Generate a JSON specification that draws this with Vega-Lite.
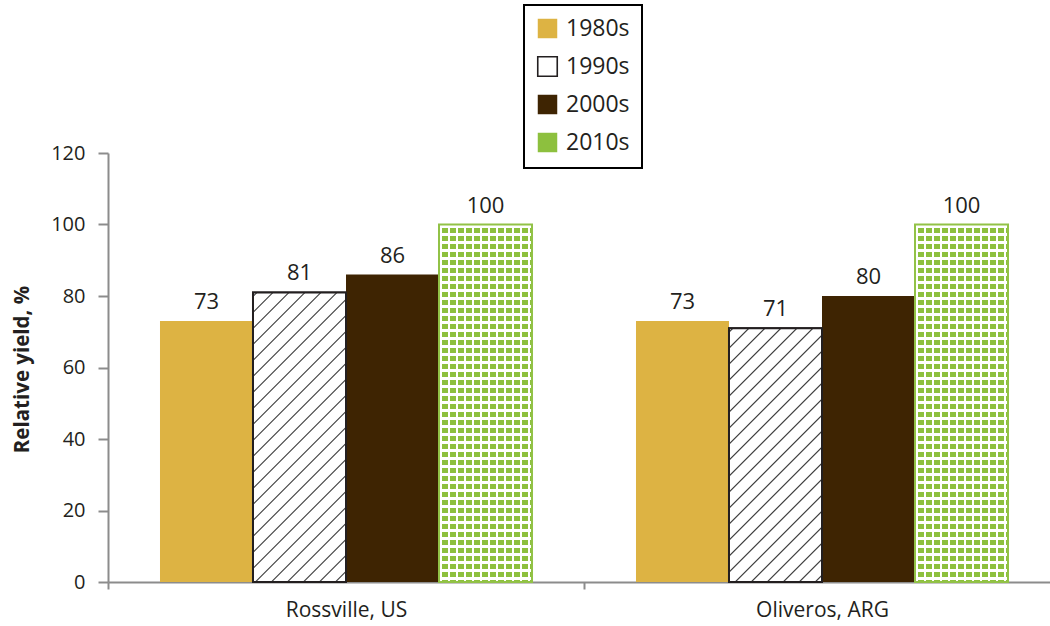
{
  "$schema": "https://vega.github.io/schema/vega-lite/v6.json",
  "width": 952,
  "height": 429,
  "autosize": "none",
  "padding": {"left": 108, "top": 153, "right": -10, "bottom": 44},
  "background": "white",
  "config": {
    "view": {"stroke": null},
    "font": "Open Sans",
    "legend": {
      "symbolSize": 380, "symbolType": "square", "symbolStrokeWidth": 1.6,
      "labelFont": "Open Sans", "labelFontSize": 23, "labelColor": "#231f20", "labelOffset": 7,
      "rowPadding": 11, "padding": 12, "strokeColor": "#000000", "fillColor": "#ffffff", "strokeWidth": 2
    }
  },
  "data": {
    "values": [
      {"site": "Rossville, US", "decade": "1980s", "yield": 73},
      {"site": "Rossville, US", "decade": "1990s", "yield": 81},
      {"site": "Rossville, US", "decade": "2000s", "yield": 86},
      {"site": "Rossville, US", "decade": "2010s", "yield": 100},
      {"site": "Oliveros, ARG", "decade": "1980s", "yield": 73},
      {"site": "Oliveros, ARG", "decade": "1990s", "yield": 71},
      {"site": "Oliveros, ARG", "decade": "2000s", "yield": 80},
      {"site": "Oliveros, ARG", "decade": "2010s", "yield": 100}
    ]
  },
  "encoding": {
    "x": {
      "field": "site",
      "type": "nominal",
      "title": null,
      "scale": {"domain": ["Rossville, US", "Oliveros, ARG"], "paddingInner": 0, "paddingOuter": 0},
      "axis": {
        "title": null, "labelAngle": 0, "tickBand": "extent", "tickSize": 7, "labelPadding": 10,
        "labelFontSize": 21, "labelColor": "#231f20", "labelFont": "Open Sans",
        "domainColor": "#8c8c8c", "domainWidth": 2, "tickColor": "#8c8c8c", "tickWidth": 2
      }
    },
    "xOffset": {
      "field": "decade",
      "type": "nominal",
      "scale": {"domain": ["1980s", "1990s", "2000s", "2010s"], "paddingInner": 0, "paddingOuter": 0.559}
    },
    "y": {
      "field": "yield",
      "type": "quantitative",
      "title": "Relative yield, %",
      "scale": {"domain": [0, 120], "nice": false},
      "axis": {
        "values": [0, 20, 40, 60, 80, 100, 120], "grid": false, "tickSize": 10, "labelPadding": 13,
        "labelFontSize": 20, "labelColor": "#231f20", "labelFont": "Open Sans",
        "domainColor": "#8c8c8c", "domainWidth": 2, "tickColor": "#8c8c8c", "tickWidth": 2,
        "titleFont": "Open Sans", "titleFontSize": 20.5, "titleFontWeight": "bold", "titleColor": "#231f20",
        "titleAngle": 270, "titleX": -80, "titleY": 216, "titleBaseline": "alphabetic", "titleAlign": "center"
      }
    }
  },
  "layer": [
    {
      "mark": {"type": "bar", "strokeWidth": 2},
      "encoding": {
        "fill": {
          "field": "decade",
          "type": "nominal",
          "scale": {"domain": ["1980s", "1990s", "2000s", "2010s"], "range": ["#ddb343", "#ffffff", "#3e2402", "#8dc03e"]},
          "legend": {"title": null, "orient": "none", "legendX": 416, "legendY": -148}
        },
        "stroke": {
          "field": "decade",
          "type": "nominal",
          "scale": {"domain": ["1980s", "1990s", "2000s", "2010s"], "range": ["transparent", "#231f20", "transparent", "transparent"]},
          "legend": {"title": null, "orient": "none", "legendX": 416, "legendY": -148}
        }
      }
    },
    {
      "transform": [{"filter": "datum.decade === '1990s' && datum.site === 'Rossville, US'"}],
      "mark": {
        "type": "bar", "stroke": "#231f20", "strokeWidth": 2,
        "fill": {
          "gradient": "linear", "x1": 0, "y1": 0, "x2": 0.3846, "y2": 1.1976,
          "stops": [
            {"offset": 0, "color": "#fff"},
            {"offset": 0.0065, "color": "#fff"}, {"offset": 0.0105, "color": "#2b2b2b"}, {"offset": 0.0144, "color": "#fff"},
            {"offset": 0.0484, "color": "#fff"}, {"offset": 0.0523, "color": "#2b2b2b"}, {"offset": 0.0562, "color": "#fff"},
            {"offset": 0.0902, "color": "#fff"}, {"offset": 0.0941, "color": "#2b2b2b"}, {"offset": 0.0980, "color": "#fff"},
            {"offset": 0.1320, "color": "#fff"}, {"offset": 0.1359, "color": "#2b2b2b"}, {"offset": 0.1398, "color": "#fff"},
            {"offset": 0.1738, "color": "#fff"}, {"offset": 0.1777, "color": "#2b2b2b"}, {"offset": 0.1817, "color": "#fff"},
            {"offset": 0.2156, "color": "#fff"}, {"offset": 0.2196, "color": "#2b2b2b"}, {"offset": 0.2235, "color": "#fff"},
            {"offset": 0.2574, "color": "#fff"}, {"offset": 0.2614, "color": "#2b2b2b"}, {"offset": 0.2653, "color": "#fff"},
            {"offset": 0.2993, "color": "#fff"}, {"offset": 0.3032, "color": "#2b2b2b"}, {"offset": 0.3071, "color": "#fff"},
            {"offset": 0.3411, "color": "#fff"}, {"offset": 0.3450, "color": "#2b2b2b"}, {"offset": 0.3489, "color": "#fff"},
            {"offset": 0.3829, "color": "#fff"}, {"offset": 0.3868, "color": "#2b2b2b"}, {"offset": 0.3907, "color": "#fff"},
            {"offset": 0.4247, "color": "#fff"}, {"offset": 0.4286, "color": "#2b2b2b"}, {"offset": 0.4326, "color": "#fff"},
            {"offset": 0.4665, "color": "#fff"}, {"offset": 0.4705, "color": "#2b2b2b"}, {"offset": 0.4744, "color": "#fff"},
            {"offset": 0.5084, "color": "#fff"}, {"offset": 0.5123, "color": "#2b2b2b"}, {"offset": 0.5162, "color": "#fff"},
            {"offset": 0.5502, "color": "#fff"}, {"offset": 0.5541, "color": "#2b2b2b"}, {"offset": 0.5580, "color": "#fff"},
            {"offset": 0.5920, "color": "#fff"}, {"offset": 0.5959, "color": "#2b2b2b"}, {"offset": 0.5998, "color": "#fff"},
            {"offset": 0.6338, "color": "#fff"}, {"offset": 0.6377, "color": "#2b2b2b"}, {"offset": 0.6417, "color": "#fff"},
            {"offset": 0.6756, "color": "#fff"}, {"offset": 0.6796, "color": "#2b2b2b"}, {"offset": 0.6835, "color": "#fff"},
            {"offset": 0.7175, "color": "#fff"}, {"offset": 0.7214, "color": "#2b2b2b"}, {"offset": 0.7253, "color": "#fff"},
            {"offset": 0.7593, "color": "#fff"}, {"offset": 0.7632, "color": "#2b2b2b"}, {"offset": 0.7671, "color": "#fff"},
            {"offset": 0.8011, "color": "#fff"}, {"offset": 0.8050, "color": "#2b2b2b"}, {"offset": 0.8089, "color": "#fff"},
            {"offset": 0.8429, "color": "#fff"}, {"offset": 0.8468, "color": "#2b2b2b"}, {"offset": 0.8508, "color": "#fff"},
            {"offset": 0.8847, "color": "#fff"}, {"offset": 0.8887, "color": "#2b2b2b"}, {"offset": 0.8926, "color": "#fff"},
            {"offset": 0.9265, "color": "#fff"}, {"offset": 0.9305, "color": "#2b2b2b"}, {"offset": 0.9344, "color": "#fff"},
            {"offset": 0.9684, "color": "#fff"}, {"offset": 0.9723, "color": "#2b2b2b"}, {"offset": 0.9762, "color": "#fff"},
            {"offset": 1, "color": "#fff"}
          ]
        }
      }
    },
    {
      "transform": [{"filter": "datum.decade === '1990s' && datum.site === 'Oliveros, ARG'"}],
      "mark": {
        "type": "bar", "stroke": "#231f20", "strokeWidth": 2,
        "fill": {
          "gradient": "linear", "x1": 0, "y1": 0, "x2": 0.4414, "y2": 1.2047,
          "stops": [
            {"offset": 0, "color": "#fff"},
            {"offset": 0.0072, "color": "#fff"}, {"offset": 0.0115, "color": "#2b2b2b"}, {"offset": 0.0159, "color": "#fff"},
            {"offset": 0.0533, "color": "#fff"}, {"offset": 0.0577, "color": "#2b2b2b"}, {"offset": 0.0620, "color": "#fff"},
            {"offset": 0.0995, "color": "#fff"}, {"offset": 0.1038, "color": "#2b2b2b"}, {"offset": 0.1081, "color": "#fff"},
            {"offset": 0.1456, "color": "#fff"}, {"offset": 0.1499, "color": "#2b2b2b"}, {"offset": 0.1543, "color": "#fff"},
            {"offset": 0.1918, "color": "#fff"}, {"offset": 0.1961, "color": "#2b2b2b"}, {"offset": 0.2004, "color": "#fff"},
            {"offset": 0.2379, "color": "#fff"}, {"offset": 0.2422, "color": "#2b2b2b"}, {"offset": 0.2465, "color": "#fff"},
            {"offset": 0.2840, "color": "#fff"}, {"offset": 0.2884, "color": "#2b2b2b"}, {"offset": 0.2927, "color": "#fff"},
            {"offset": 0.3302, "color": "#fff"}, {"offset": 0.3345, "color": "#2b2b2b"}, {"offset": 0.3388, "color": "#fff"},
            {"offset": 0.3763, "color": "#fff"}, {"offset": 0.3806, "color": "#2b2b2b"}, {"offset": 0.3849, "color": "#fff"},
            {"offset": 0.4224, "color": "#fff"}, {"offset": 0.4268, "color": "#2b2b2b"}, {"offset": 0.4311, "color": "#fff"},
            {"offset": 0.4686, "color": "#fff"}, {"offset": 0.4729, "color": "#2b2b2b"}, {"offset": 0.4772, "color": "#fff"},
            {"offset": 0.5147, "color": "#fff"}, {"offset": 0.5190, "color": "#2b2b2b"}, {"offset": 0.5234, "color": "#fff"},
            {"offset": 0.5608, "color": "#fff"}, {"offset": 0.5652, "color": "#2b2b2b"}, {"offset": 0.5695, "color": "#fff"},
            {"offset": 0.6070, "color": "#fff"}, {"offset": 0.6113, "color": "#2b2b2b"}, {"offset": 0.6156, "color": "#fff"},
            {"offset": 0.6531, "color": "#fff"}, {"offset": 0.6574, "color": "#2b2b2b"}, {"offset": 0.6618, "color": "#fff"},
            {"offset": 0.6992, "color": "#fff"}, {"offset": 0.7036, "color": "#2b2b2b"}, {"offset": 0.7079, "color": "#fff"},
            {"offset": 0.7454, "color": "#fff"}, {"offset": 0.7497, "color": "#2b2b2b"}, {"offset": 0.7540, "color": "#fff"},
            {"offset": 0.7915, "color": "#fff"}, {"offset": 0.7958, "color": "#2b2b2b"}, {"offset": 0.8002, "color": "#fff"},
            {"offset": 0.8377, "color": "#fff"}, {"offset": 0.8420, "color": "#2b2b2b"}, {"offset": 0.8463, "color": "#fff"},
            {"offset": 0.8838, "color": "#fff"}, {"offset": 0.8881, "color": "#2b2b2b"}, {"offset": 0.8924, "color": "#fff"},
            {"offset": 0.9299, "color": "#fff"}, {"offset": 0.9343, "color": "#2b2b2b"}, {"offset": 0.9386, "color": "#fff"},
            {"offset": 0.9761, "color": "#fff"}, {"offset": 0.9804, "color": "#2b2b2b"}, {"offset": 0.9847, "color": "#fff"},
            {"offset": 1, "color": "#fff"}
          ]
        }
      }
    },
    {
      "transform": [{"filter": "datum.decade === '2010s'"}],
      "mark": {
        "type": "bar",
        "fill": {
          "gradient": "linear", "x1": 0, "y1": 0, "x2": 1, "y2": 0,
          "stops": [
            {"offset": 0, "color": "#8dc03e"},
            {"offset": 0.0075, "color": "#8dc03e"}, {"offset": 0.0075, "color": "#fff"}, {"offset": 0.0355, "color": "#fff"}, {"offset": 0.0355, "color": "#8dc03e"},
            {"offset": 0.0935, "color": "#8dc03e"}, {"offset": 0.0935, "color": "#fff"}, {"offset": 0.1215, "color": "#fff"}, {"offset": 0.1215, "color": "#8dc03e"},
            {"offset": 0.1796, "color": "#8dc03e"}, {"offset": 0.1796, "color": "#fff"}, {"offset": 0.2075, "color": "#fff"}, {"offset": 0.2075, "color": "#8dc03e"},
            {"offset": 0.2656, "color": "#8dc03e"}, {"offset": 0.2656, "color": "#fff"}, {"offset": 0.2935, "color": "#fff"}, {"offset": 0.2935, "color": "#8dc03e"},
            {"offset": 0.3516, "color": "#8dc03e"}, {"offset": 0.3516, "color": "#fff"}, {"offset": 0.3796, "color": "#fff"}, {"offset": 0.3796, "color": "#8dc03e"},
            {"offset": 0.4376, "color": "#8dc03e"}, {"offset": 0.4376, "color": "#fff"}, {"offset": 0.4656, "color": "#fff"}, {"offset": 0.4656, "color": "#8dc03e"},
            {"offset": 0.5237, "color": "#8dc03e"}, {"offset": 0.5237, "color": "#fff"}, {"offset": 0.5516, "color": "#fff"}, {"offset": 0.5516, "color": "#8dc03e"},
            {"offset": 0.6097, "color": "#8dc03e"}, {"offset": 0.6097, "color": "#fff"}, {"offset": 0.6376, "color": "#fff"}, {"offset": 0.6376, "color": "#8dc03e"},
            {"offset": 0.6957, "color": "#8dc03e"}, {"offset": 0.6957, "color": "#fff"}, {"offset": 0.7237, "color": "#fff"}, {"offset": 0.7237, "color": "#8dc03e"},
            {"offset": 0.7817, "color": "#8dc03e"}, {"offset": 0.7817, "color": "#fff"}, {"offset": 0.8097, "color": "#fff"}, {"offset": 0.8097, "color": "#8dc03e"},
            {"offset": 0.8677, "color": "#8dc03e"}, {"offset": 0.8677, "color": "#fff"}, {"offset": 0.8957, "color": "#fff"}, {"offset": 0.8957, "color": "#8dc03e"},
            {"offset": 0.9538, "color": "#8dc03e"}, {"offset": 0.9538, "color": "#fff"}, {"offset": 0.9817, "color": "#fff"}, {"offset": 0.9817, "color": "#8dc03e"},
            {"offset": 1, "color": "#8dc03e"}
          ]
        }
      }
    },
    {
      "transform": [{"filter": "datum.decade === '2010s'"}],
      "mark": {
        "type": "bar", "stroke": "#92c247", "strokeWidth": 2,
        "fill": {
          "gradient": "linear", "x1": 0, "y1": 0, "x2": 0, "y2": 1,
          "stops": [
            {"offset": 0, "color": "rgba(255,255,255,0)"},
            {"offset": 0.0020, "color": "rgba(255,255,255,0)"}, {"offset": 0.0020, "color": "#fff"}, {"offset": 0.0092, "color": "#fff"}, {"offset": 0.0092, "color": "rgba(255,255,255,0)"},
            {"offset": 0.0243, "color": "rgba(255,255,255,0)"}, {"offset": 0.0243, "color": "#fff"}, {"offset": 0.0316, "color": "#fff"}, {"offset": 0.0316, "color": "rgba(255,255,255,0)"},
            {"offset": 0.0467, "color": "rgba(255,255,255,0)"}, {"offset": 0.0467, "color": "#fff"}, {"offset": 0.0540, "color": "#fff"}, {"offset": 0.0540, "color": "rgba(255,255,255,0)"},
            {"offset": 0.0691, "color": "rgba(255,255,255,0)"}, {"offset": 0.0691, "color": "#fff"}, {"offset": 0.0764, "color": "#fff"}, {"offset": 0.0764, "color": "rgba(255,255,255,0)"},
            {"offset": 0.0915, "color": "rgba(255,255,255,0)"}, {"offset": 0.0915, "color": "#fff"}, {"offset": 0.0987, "color": "#fff"}, {"offset": 0.0987, "color": "rgba(255,255,255,0)"},
            {"offset": 0.1139, "color": "rgba(255,255,255,0)"}, {"offset": 0.1139, "color": "#fff"}, {"offset": 0.1211, "color": "#fff"}, {"offset": 0.1211, "color": "rgba(255,255,255,0)"},
            {"offset": 0.1362, "color": "rgba(255,255,255,0)"}, {"offset": 0.1362, "color": "#fff"}, {"offset": 0.1435, "color": "#fff"}, {"offset": 0.1435, "color": "rgba(255,255,255,0)"},
            {"offset": 0.1586, "color": "rgba(255,255,255,0)"}, {"offset": 0.1586, "color": "#fff"}, {"offset": 0.1659, "color": "#fff"}, {"offset": 0.1659, "color": "rgba(255,255,255,0)"},
            {"offset": 0.1810, "color": "rgba(255,255,255,0)"}, {"offset": 0.1810, "color": "#fff"}, {"offset": 0.1883, "color": "#fff"}, {"offset": 0.1883, "color": "rgba(255,255,255,0)"},
            {"offset": 0.2034, "color": "rgba(255,255,255,0)"}, {"offset": 0.2034, "color": "#fff"}, {"offset": 0.2106, "color": "#fff"}, {"offset": 0.2106, "color": "rgba(255,255,255,0)"},
            {"offset": 0.2257, "color": "rgba(255,255,255,0)"}, {"offset": 0.2257, "color": "#fff"}, {"offset": 0.2330, "color": "#fff"}, {"offset": 0.2330, "color": "rgba(255,255,255,0)"},
            {"offset": 0.2481, "color": "rgba(255,255,255,0)"}, {"offset": 0.2481, "color": "#fff"}, {"offset": 0.2554, "color": "#fff"}, {"offset": 0.2554, "color": "rgba(255,255,255,0)"},
            {"offset": 0.2705, "color": "rgba(255,255,255,0)"}, {"offset": 0.2705, "color": "#fff"}, {"offset": 0.2778, "color": "#fff"}, {"offset": 0.2778, "color": "rgba(255,255,255,0)"},
            {"offset": 0.2929, "color": "rgba(255,255,255,0)"}, {"offset": 0.2929, "color": "#fff"}, {"offset": 0.3001, "color": "#fff"}, {"offset": 0.3001, "color": "rgba(255,255,255,0)"},
            {"offset": 0.3153, "color": "rgba(255,255,255,0)"}, {"offset": 0.3153, "color": "#fff"}, {"offset": 0.3225, "color": "#fff"}, {"offset": 0.3225, "color": "rgba(255,255,255,0)"},
            {"offset": 0.3376, "color": "rgba(255,255,255,0)"}, {"offset": 0.3376, "color": "#fff"}, {"offset": 0.3449, "color": "#fff"}, {"offset": 0.3449, "color": "rgba(255,255,255,0)"},
            {"offset": 0.3600, "color": "rgba(255,255,255,0)"}, {"offset": 0.3600, "color": "#fff"}, {"offset": 0.3673, "color": "#fff"}, {"offset": 0.3673, "color": "rgba(255,255,255,0)"},
            {"offset": 0.3824, "color": "rgba(255,255,255,0)"}, {"offset": 0.3824, "color": "#fff"}, {"offset": 0.3897, "color": "#fff"}, {"offset": 0.3897, "color": "rgba(255,255,255,0)"},
            {"offset": 0.4048, "color": "rgba(255,255,255,0)"}, {"offset": 0.4048, "color": "#fff"}, {"offset": 0.4120, "color": "#fff"}, {"offset": 0.4120, "color": "rgba(255,255,255,0)"},
            {"offset": 0.4271, "color": "rgba(255,255,255,0)"}, {"offset": 0.4271, "color": "#fff"}, {"offset": 0.4344, "color": "#fff"}, {"offset": 0.4344, "color": "rgba(255,255,255,0)"},
            {"offset": 0.4495, "color": "rgba(255,255,255,0)"}, {"offset": 0.4495, "color": "#fff"}, {"offset": 0.4568, "color": "#fff"}, {"offset": 0.4568, "color": "rgba(255,255,255,0)"},
            {"offset": 0.4719, "color": "rgba(255,255,255,0)"}, {"offset": 0.4719, "color": "#fff"}, {"offset": 0.4792, "color": "#fff"}, {"offset": 0.4792, "color": "rgba(255,255,255,0)"},
            {"offset": 0.4943, "color": "rgba(255,255,255,0)"}, {"offset": 0.4943, "color": "#fff"}, {"offset": 0.5015, "color": "#fff"}, {"offset": 0.5015, "color": "rgba(255,255,255,0)"},
            {"offset": 0.5167, "color": "rgba(255,255,255,0)"}, {"offset": 0.5167, "color": "#fff"}, {"offset": 0.5239, "color": "#fff"}, {"offset": 0.5239, "color": "rgba(255,255,255,0)"},
            {"offset": 0.5390, "color": "rgba(255,255,255,0)"}, {"offset": 0.5390, "color": "#fff"}, {"offset": 0.5463, "color": "#fff"}, {"offset": 0.5463, "color": "rgba(255,255,255,0)"},
            {"offset": 0.5614, "color": "rgba(255,255,255,0)"}, {"offset": 0.5614, "color": "#fff"}, {"offset": 0.5687, "color": "#fff"}, {"offset": 0.5687, "color": "rgba(255,255,255,0)"},
            {"offset": 0.5838, "color": "rgba(255,255,255,0)"}, {"offset": 0.5838, "color": "#fff"}, {"offset": 0.5911, "color": "#fff"}, {"offset": 0.5911, "color": "rgba(255,255,255,0)"},
            {"offset": 0.6062, "color": "rgba(255,255,255,0)"}, {"offset": 0.6062, "color": "#fff"}, {"offset": 0.6134, "color": "#fff"}, {"offset": 0.6134, "color": "rgba(255,255,255,0)"},
            {"offset": 0.6285, "color": "rgba(255,255,255,0)"}, {"offset": 0.6285, "color": "#fff"}, {"offset": 0.6358, "color": "#fff"}, {"offset": 0.6358, "color": "rgba(255,255,255,0)"},
            {"offset": 0.6509, "color": "rgba(255,255,255,0)"}, {"offset": 0.6509, "color": "#fff"}, {"offset": 0.6582, "color": "#fff"}, {"offset": 0.6582, "color": "rgba(255,255,255,0)"},
            {"offset": 0.6733, "color": "rgba(255,255,255,0)"}, {"offset": 0.6733, "color": "#fff"}, {"offset": 0.6806, "color": "#fff"}, {"offset": 0.6806, "color": "rgba(255,255,255,0)"},
            {"offset": 0.6957, "color": "rgba(255,255,255,0)"}, {"offset": 0.6957, "color": "#fff"}, {"offset": 0.7029, "color": "#fff"}, {"offset": 0.7029, "color": "rgba(255,255,255,0)"},
            {"offset": 0.7181, "color": "rgba(255,255,255,0)"}, {"offset": 0.7181, "color": "#fff"}, {"offset": 0.7253, "color": "#fff"}, {"offset": 0.7253, "color": "rgba(255,255,255,0)"},
            {"offset": 0.7404, "color": "rgba(255,255,255,0)"}, {"offset": 0.7404, "color": "#fff"}, {"offset": 0.7477, "color": "#fff"}, {"offset": 0.7477, "color": "rgba(255,255,255,0)"},
            {"offset": 0.7628, "color": "rgba(255,255,255,0)"}, {"offset": 0.7628, "color": "#fff"}, {"offset": 0.7701, "color": "#fff"}, {"offset": 0.7701, "color": "rgba(255,255,255,0)"},
            {"offset": 0.7852, "color": "rgba(255,255,255,0)"}, {"offset": 0.7852, "color": "#fff"}, {"offset": 0.7925, "color": "#fff"}, {"offset": 0.7925, "color": "rgba(255,255,255,0)"},
            {"offset": 0.8076, "color": "rgba(255,255,255,0)"}, {"offset": 0.8076, "color": "#fff"}, {"offset": 0.8148, "color": "#fff"}, {"offset": 0.8148, "color": "rgba(255,255,255,0)"},
            {"offset": 0.8299, "color": "rgba(255,255,255,0)"}, {"offset": 0.8299, "color": "#fff"}, {"offset": 0.8372, "color": "#fff"}, {"offset": 0.8372, "color": "rgba(255,255,255,0)"},
            {"offset": 0.8523, "color": "rgba(255,255,255,0)"}, {"offset": 0.8523, "color": "#fff"}, {"offset": 0.8596, "color": "#fff"}, {"offset": 0.8596, "color": "rgba(255,255,255,0)"},
            {"offset": 0.8747, "color": "rgba(255,255,255,0)"}, {"offset": 0.8747, "color": "#fff"}, {"offset": 0.8820, "color": "#fff"}, {"offset": 0.8820, "color": "rgba(255,255,255,0)"},
            {"offset": 0.8971, "color": "rgba(255,255,255,0)"}, {"offset": 0.8971, "color": "#fff"}, {"offset": 0.9043, "color": "#fff"}, {"offset": 0.9043, "color": "rgba(255,255,255,0)"},
            {"offset": 0.9195, "color": "rgba(255,255,255,0)"}, {"offset": 0.9195, "color": "#fff"}, {"offset": 0.9267, "color": "#fff"}, {"offset": 0.9267, "color": "rgba(255,255,255,0)"},
            {"offset": 0.9418, "color": "rgba(255,255,255,0)"}, {"offset": 0.9418, "color": "#fff"}, {"offset": 0.9491, "color": "#fff"}, {"offset": 0.9491, "color": "rgba(255,255,255,0)"},
            {"offset": 0.9642, "color": "rgba(255,255,255,0)"}, {"offset": 0.9642, "color": "#fff"}, {"offset": 0.9715, "color": "#fff"}, {"offset": 0.9715, "color": "rgba(255,255,255,0)"},
            {"offset": 0.9866, "color": "rgba(255,255,255,0)"}, {"offset": 0.9866, "color": "#fff"}, {"offset": 0.9939, "color": "#fff"}, {"offset": 0.9939, "color": "rgba(255,255,255,0)"},
            {"offset": 1, "color": "rgba(255,255,255,0)"}
          ]
        }
      }
    },
    {
      "mark": {"type": "text", "baseline": "alphabetic", "dy": -12, "fontSize": 22, "font": "Open Sans", "fill": "#231f20"},
      "encoding": {"text": {"field": "yield", "type": "quantitative"}}
    }
  ]
}
